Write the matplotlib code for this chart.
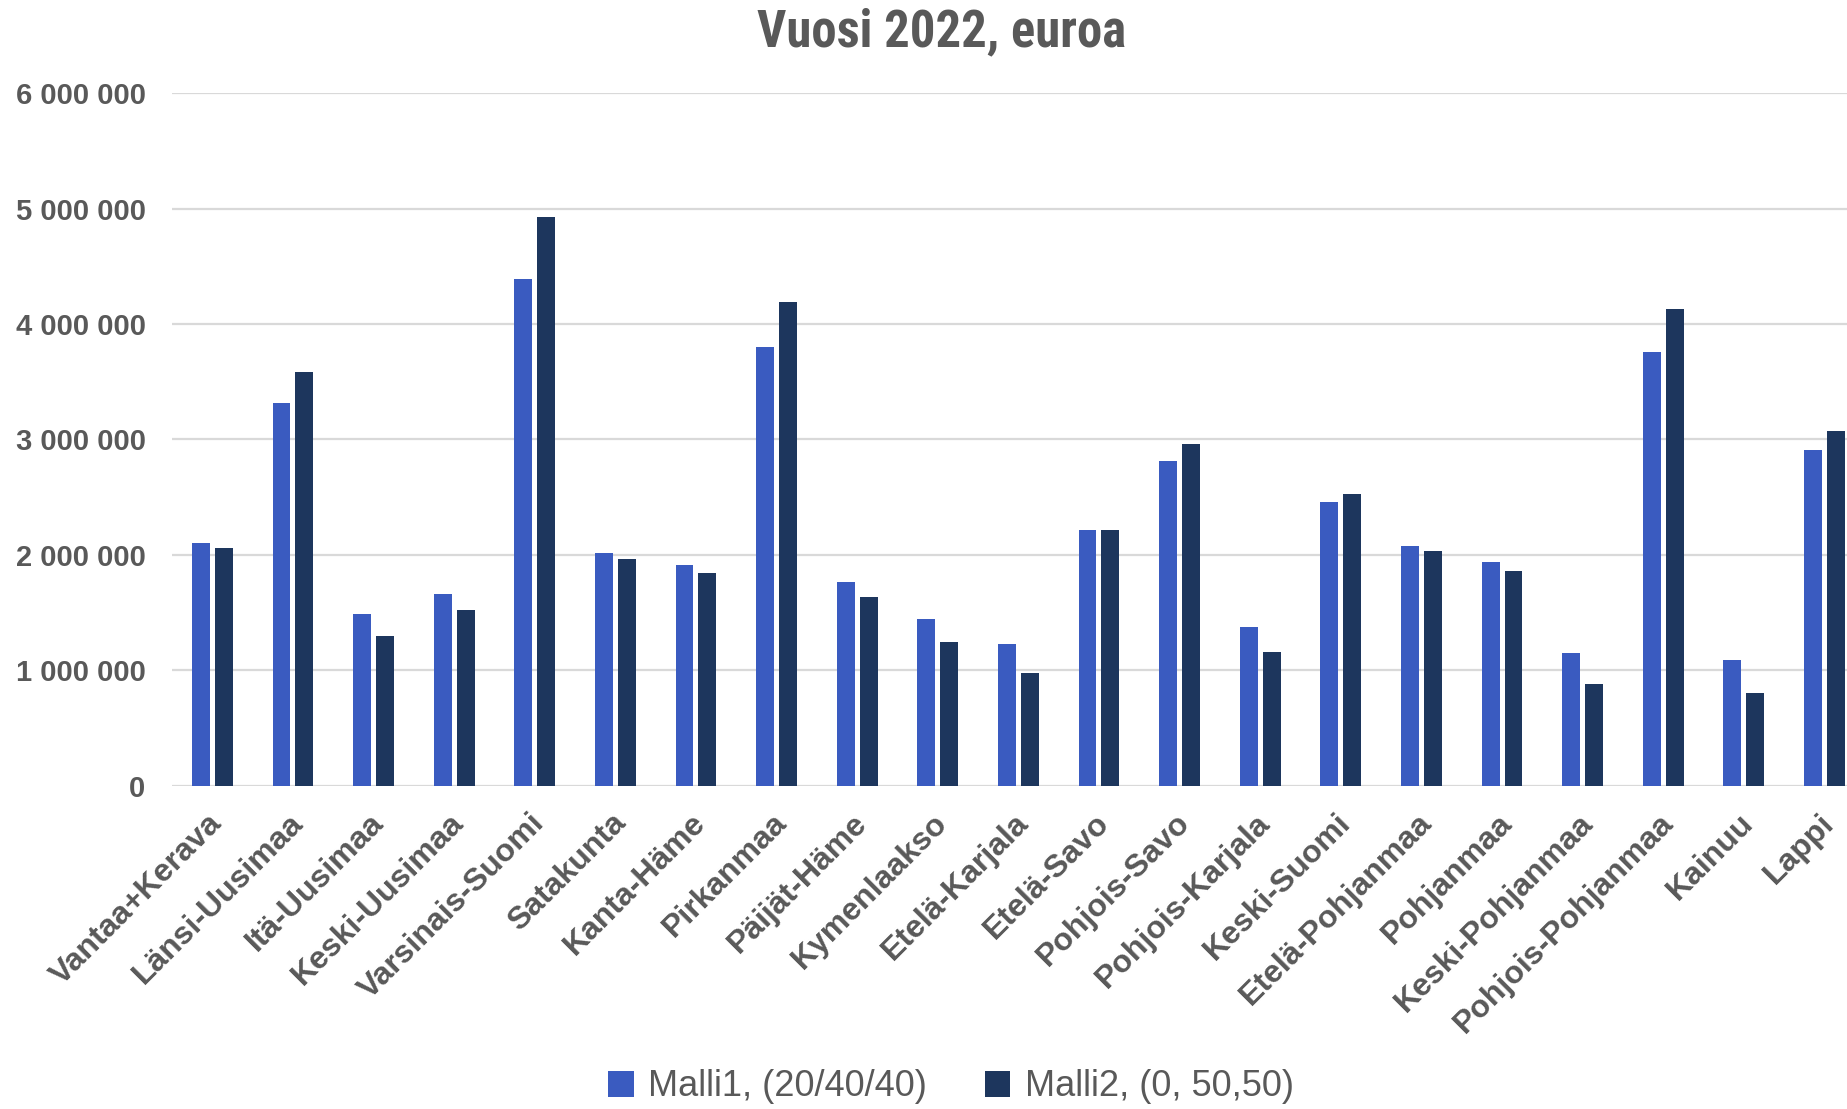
import matplotlib

matplotlib.use("Agg")
import matplotlib.pyplot as plt
import matplotlib.transforms as mtransforms
import numpy as np
from matplotlib import font_manager
from matplotlib.ticker import FuncFormatter

REGIONS = [
    "Vantaa+Kerava", "Länsi-Uusimaa", "Itä-Uusimaa", "Keski-Uusimaa", "Varsinais-Suomi",
    "Satakunta", "Kanta-Häme", "Pirkanmaa", "Päijät-Häme", "Kymenlaakso", "Etelä-Karjala",
    "Etelä-Savo", "Pohjois-Savo", "Pohjois-Karjala", "Keski-Suomi", "Etelä-Pohjanmaa",
    "Pohjanmaa", "Keski-Pohjanmaa", "Pohjois-Pohjanmaa", "Kainuu", "Lappi",
]
MALLI1 = [
    2100000, 3316000, 1489000, 1658000, 4387000, 2019000, 1916000, 3803000, 1761000, 1442000,
    1230000, 2218000, 2812000, 1373000, 2460000, 2076000, 1936000, 1147000, 3753000, 1091000,
    2905000,
]
MALLI2 = [
    2062000, 3587000, 1300000, 1519000, 4924000, 1963000, 1840000, 4194000, 1638000, 1247000,
    978000, 2212000, 2958000, 1157000, 2523000, 2036000, 1863000, 879000, 4131000, 806000,
    3074000,
]
SERIES = ["Malli1, (20/40/40)", "Malli2, (0, 50,50)"]
COLORS = ["#3A5BC0", "#1D365D"]
TEXT = "#595959"

plt.rcParams["font.family"] = ["Liberation Sans", "DejaVu Sans"]

# narrow face for the title, if one is installed
names = {f.name for f in font_manager.fontManager.ttflist}
narrow = [n for n in ["Liberation Sans Narrow", "Arial Narrow", "Roboto Condensed",
                      "Open Sans Condensed", "DejaVu Sans"] if n in names]

fig = plt.figure(figsize=(18.47, 11.09), dpi=100)
ax = fig.add_axes([172 / 1847, 1 - 785.7 / 1109, 1 - 172 / 1847, (785.7 - 93.1) / 1109])

x = np.arange(len(REGIONS))
w = 0.222
off = 0.142
ax.bar(x - off, MALLI1, w, color=COLORS[0], label=SERIES[0], zorder=3)
ax.bar(x + off, MALLI2, w, color=COLORS[1], label=SERIES[1], zorder=3)

ax.set_xlim(-0.5, 20.28)
ax.set_ylim(0, 6000000)
ax.set_yticks(np.arange(0, 6000001, 1000000))
ax.yaxis.set_major_formatter(FuncFormatter(lambda v, _: f"{int(v):,}".replace(",", " ")))
ax.grid(axis="y", color="#D9D9D9", linewidth=1.6, zorder=0)
for s in ax.spines.values():
    s.set_visible(False)
ax.tick_params(axis="both", length=0)
ax.tick_params(axis="y", pad=19, labelsize=21, labelcolor=TEXT)
for t in ax.get_yticklabels():
    t.set_fontweight("bold")

ax.set_xticks(x)
ax.set_xticklabels(REGIONS, rotation=45, ha="right", rotation_mode="anchor",
                   fontsize=23, fontweight="bold", color=TEXT)
ax.tick_params(axis="x", pad=16)
shift = mtransforms.ScaledTranslation(-0.05, 0, fig.dpi_scale_trans)
for t in ax.get_xticklabels():
    t.set_transform(t.get_transform() + shift)

fig.text(942 / 1847, 1 - 32 / 1109, "Vuosi 2022, euroa", ha="center", va="center",
         fontsize=36.5, fontweight="bold", fontstretch="condensed", color=TEXT,
         family=narrow + ["DejaVu Sans"])

fig.legend(loc="center", bbox_to_anchor=(951 / 1847, 1 - 1087 / 1109), ncol=2, frameon=False,
           fontsize=26, labelcolor=TEXT, handlelength=0.7, handleheight=0.7,
           handletextpad=0.4, columnspacing=1.6)

fig.savefig("out.png", dpi=100)
